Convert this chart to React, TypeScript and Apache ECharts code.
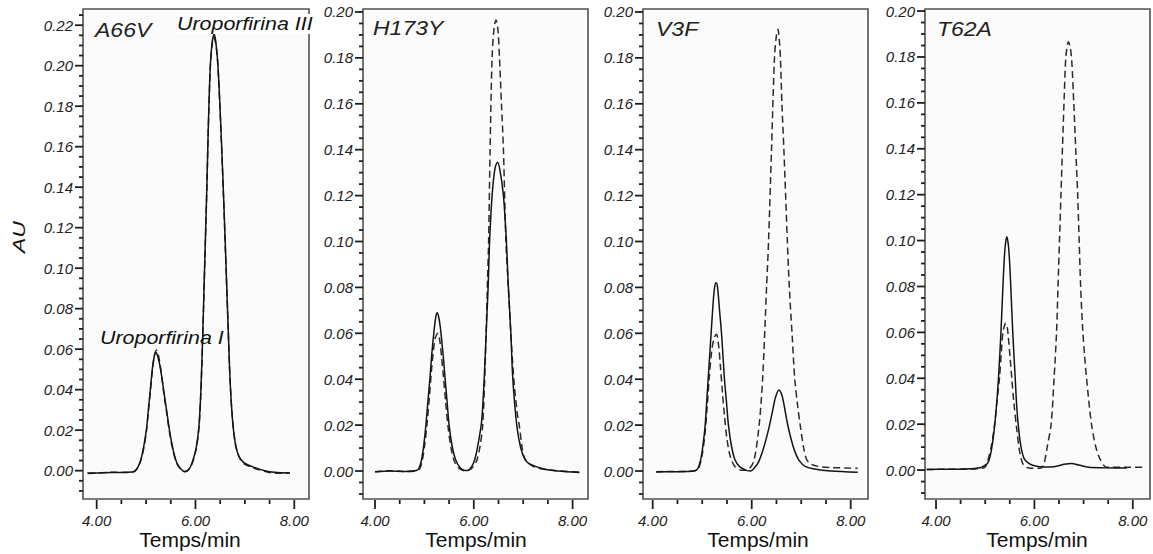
import React, { useEffect, useRef } from "react";
import * as echarts from "echarts";

// ---------- data (time in min, absorbance in AU) ----------
const panelNames = ["A66V", "H173Y", "V3F", "T62A"];
const peakNames = ["Uroporfirina I", "Uroporfirina III"];
const xAxisTitle = "Temps/min";
const yAxisTitle = "AU";

const xTickValues = [4, 6, 8];
const xMinorTickValues = [4.5, 5, 5.5, 6.5, 7, 7.5];
const yTickValuesA66V = [0, 0.02, 0.04, 0.06, 0.08, 0.1, 0.12, 0.14, 0.16, 0.18, 0.2, 0.22];
const yTickValuesOther = [0, 0.02, 0.04, 0.06, 0.08, 0.1, 0.12, 0.14, 0.16, 0.18, 0.2];

// A66V — solid (mutant) and dashed (wild type)
const a66vSolid: [number, number][] = [
  [3.81, -0.0012], [4.0, -0.0011], [4.3, -0.0009], [4.6, -0.0008], [4.76, -0.0004], [4.84, 0.002],
  [4.9, 0.006], [4.96, 0.013], [5.01, 0.021], [5.05, 0.031], [5.09, 0.041], [5.13, 0.051],
  [5.17, 0.057], [5.2, 0.0585], [5.23, 0.057], [5.27, 0.053], [5.32, 0.046], [5.36, 0.039],
  [5.42, 0.029], [5.48, 0.019], [5.55, 0.01], [5.62, 0.004], [5.7, 0.001], [5.78, -0.0004],
  [5.84, 0.0], [5.9, 0.002], [5.96, 0.006], [6.02, 0.012], [6.07, 0.022], [6.11, 0.04],
  [6.15, 0.07], [6.19, 0.105], [6.23, 0.14], [6.26, 0.17], [6.3, 0.2], [6.34, 0.212],
  [6.38, 0.2155], [6.41, 0.212], [6.45, 0.202], [6.49, 0.183], [6.53, 0.16], [6.58, 0.128],
  [6.62, 0.1], [6.66, 0.072], [6.7, 0.045], [6.75, 0.025], [6.81, 0.013], [6.88, 0.007],
  [6.98, 0.004], [7.15, 0.002], [7.4, 0.0], [7.6, -0.0008], [7.91, -0.0012],
];
const a66vDashed: [number, number][] = [
  [3.83, -0.0014], [4.0, -0.0012], [4.3, -0.0008], [4.6, -0.0009], [4.76, -0.0005], [4.84, 0.0018],
  [4.9, 0.0055], [4.96, 0.012], [5.01, 0.02], [5.05, 0.03], [5.09, 0.04], [5.13, 0.05],
  [5.17, 0.057], [5.21, 0.0595], [5.24, 0.058], [5.28, 0.053], [5.32, 0.046], [5.36, 0.038],
  [5.42, 0.028], [5.48, 0.018], [5.55, 0.0095], [5.62, 0.0035], [5.7, 0.0008], [5.78, -0.0005],
  [5.84, 0.0], [5.9, 0.0018], [5.96, 0.0055], [6.02, 0.0115], [6.07, 0.021], [6.11, 0.039],
  [6.15, 0.069], [6.19, 0.104], [6.23, 0.139], [6.26, 0.169], [6.3, 0.199], [6.34, 0.211],
  [6.37, 0.214], [6.41, 0.211], [6.45, 0.201], [6.49, 0.182], [6.53, 0.159], [6.58, 0.127],
  [6.62, 0.099], [6.66, 0.071], [6.7, 0.045], [6.75, 0.025], [6.81, 0.013], [6.88, 0.007],
  [6.98, 0.0035], [7.15, 0.0015], [7.4, -0.0003], [7.6, -0.0013], [7.91, -0.0011],
];

// H173Y
const h173ySolid: [number, number][] = [
  [4.0, -0.0003], [4.3, 0.0], [4.6, -0.0002], [4.85, 0.0003], [4.92, 0.003], [4.98, 0.01],
  [5.03, 0.02], [5.07, 0.03], [5.11, 0.04], [5.15, 0.051], [5.19, 0.06], [5.23, 0.067],
  [5.26, 0.069], [5.29, 0.067], [5.32, 0.063], [5.35, 0.057], [5.39, 0.048], [5.42, 0.04],
  [5.46, 0.03], [5.5, 0.02], [5.56, 0.011], [5.63, 0.005], [5.72, 0.0015], [5.82, 0.0002],
  [5.89, 0.0003], [5.96, 0.002], [6.02, 0.005], [6.09, 0.012], [6.16, 0.022], [6.21, 0.04],
  [6.25, 0.06], [6.29, 0.08], [6.32, 0.1], [6.37, 0.12], [6.43, 0.132], [6.48, 0.1345],
  [6.53, 0.131], [6.6, 0.12], [6.66, 0.1], [6.7, 0.08], [6.75, 0.06], [6.79, 0.04],
  [6.87, 0.02], [6.95, 0.01], [7.04, 0.005], [7.14, 0.003], [7.4, 0.001], [7.7, 0.0],
  [8.14, -0.0006],
];
const h173yDashed: [number, number][] = [
  [4.0, -0.0003], [4.3, 0.0001], [4.6, -0.0002], [4.88, 0.0005], [4.95, 0.004], [5.01, 0.012],
  [5.06, 0.022], [5.1, 0.032], [5.14, 0.043], [5.18, 0.052], [5.22, 0.058], [5.27, 0.06],
  [5.31, 0.057], [5.35, 0.049], [5.39, 0.04], [5.43, 0.03], [5.48, 0.019], [5.54, 0.01],
  [5.61, 0.004], [5.71, 0.001], [5.83, 0.0001], [5.95, 0.001], [6.05, 0.004], [6.12, 0.01],
  [6.18, 0.02], [6.22, 0.04], [6.25, 0.06], [6.28, 0.085], [6.3, 0.1], [6.33, 0.14],
  [6.37, 0.18], [6.41, 0.193], [6.45, 0.1965], [6.49, 0.192], [6.52, 0.18], [6.56, 0.16],
  [6.6, 0.14], [6.65, 0.1], [6.7, 0.08], [6.75, 0.06], [6.81, 0.04], [6.88, 0.025],
  [6.92, 0.02], [6.98, 0.01], [7.04, 0.005], [7.2, 0.002], [7.5, 0.0005], [8.14, -0.0005],
];

// V3F
const v3fSolid: [number, number][] = [
  [4.07, -0.0004], [4.4, -0.0003], [4.7, -0.0002], [4.89, 0.0005], [4.97, 0.005], [5.02, 0.012],
  [5.06, 0.02], [5.09, 0.03], [5.12, 0.04], [5.15, 0.05], [5.18, 0.06], [5.22, 0.073],
  [5.25, 0.08], [5.28, 0.082], [5.31, 0.08], [5.35, 0.07], [5.39, 0.06], [5.42, 0.05],
  [5.45, 0.04], [5.49, 0.03], [5.53, 0.02], [5.59, 0.011], [5.66, 0.005], [5.75, 0.002],
  [5.88, 0.0004], [5.98, 0.0], [6.06, 0.0015], [6.14, 0.004], [6.21, 0.008], [6.28, 0.013],
  [6.35, 0.019], [6.42, 0.026], [6.48, 0.032], [6.55, 0.0353], [6.61, 0.033], [6.66, 0.028],
  [6.71, 0.022], [6.76, 0.017], [6.82, 0.012], [6.88, 0.008], [6.96, 0.0045], [7.08, 0.002],
  [7.24, 0.001], [7.6, 0.0], [8.14, -0.0005],
];
const v3fDashed: [number, number][] = [
  [4.07, -0.0003], [4.4, -0.0002], [4.7, -0.0001], [4.9, 0.0005], [4.98, 0.005], [5.05, 0.015],
  [5.1, 0.028], [5.14, 0.04], [5.19, 0.052], [5.24, 0.058], [5.29, 0.0596], [5.33, 0.055],
  [5.37, 0.045], [5.41, 0.034], [5.45, 0.024], [5.5, 0.014], [5.57, 0.006], [5.66, 0.002],
  [5.8, 0.0003], [5.95, 0.001], [6.05, 0.005], [6.15, 0.02], [6.22, 0.04], [6.3, 0.08],
  [6.34, 0.1], [6.4, 0.14], [6.46, 0.18], [6.5, 0.19], [6.53, 0.1925], [6.56, 0.187],
  [6.58, 0.18], [6.61, 0.16], [6.65, 0.14], [6.72, 0.1], [6.76, 0.08], [6.82, 0.058],
  [6.87, 0.04], [6.93, 0.028], [6.98, 0.02], [7.05, 0.01], [7.11, 0.005], [7.2, 0.003],
  [7.35, 0.002], [7.6, 0.0015], [8.14, 0.0012],
];

// T62A
const t62aSolid: [number, number][] = [
  [3.81, 0.0003], [4.2, 0.0004], [4.6, 0.0005], [4.9, 0.001], [4.99, 0.002], [5.05, 0.003],
  [5.1, 0.006], [5.15, 0.012], [5.2, 0.021], [5.24, 0.031], [5.27, 0.04], [5.32, 0.06],
  [5.36, 0.08], [5.4, 0.096], [5.44, 0.1017], [5.48, 0.096], [5.52, 0.08], [5.56, 0.06],
  [5.61, 0.04], [5.64, 0.028], [5.67, 0.02], [5.72, 0.011], [5.79, 0.005], [5.88, 0.003],
  [5.98, 0.002], [6.2, 0.0013], [6.4, 0.0015], [6.6, 0.0025], [6.76, 0.0029], [6.9, 0.0022],
  [7.1, 0.0012], [7.4, 0.001], [7.88, 0.0009],
];
const t62aDashed: [number, number][] = [
  [3.81, 0.0003], [4.5, 0.0004], [4.98, 0.001], [5.05, 0.004], [5.12, 0.01], [5.18, 0.018],
  [5.24, 0.03], [5.29, 0.04], [5.33, 0.052], [5.36, 0.06], [5.4, 0.0635], [5.42, 0.064],
  [5.45, 0.062], [5.47, 0.058], [5.51, 0.048], [5.54, 0.04], [5.58, 0.03], [5.64, 0.018],
  [5.7, 0.008], [5.76, 0.003], [5.84, 0.0012], [5.95, 0.0008], [6.1, 0.0008], [6.15, 0.001],
  [6.2, 0.003], [6.26, 0.01], [6.34, 0.02], [6.4, 0.04], [6.45, 0.06], [6.48, 0.08],
  [6.51, 0.1], [6.54, 0.12], [6.57, 0.14], [6.61, 0.165], [6.64, 0.18], [6.69, 0.1866],
  [6.73, 0.184], [6.76, 0.178], [6.8, 0.16], [6.84, 0.14], [6.88, 0.12], [6.91, 0.1],
  [6.94, 0.08], [6.98, 0.062], [7.02, 0.05], [7.06, 0.04], [7.16, 0.02], [7.25, 0.01],
  [7.33, 0.005], [7.47, 0.0012], [7.8, 0.0012], [8.25, 0.0012],
];

const solidSeries = [a66vSolid, h173ySolid, v3fSolid, t62aSolid];
const dashedSeries = [a66vDashed, h173yDashed, v3fDashed, t62aDashed];

// ---------- layout (pixels / axis ranges) ----------
const layout = [
  { left: 83, width: 226, xMin: 3.723, xMax: 8.298, yMin: -0.014, yMax: 0.228, yTicks: yTickValuesA66V, nameX: 95, nameY: 30.5, titleX: 190 },
  { left: 363, width: 225, xMin: 3.757, xMax: 8.312, yMin: -0.0122, yMax: 0.2013, yTicks: yTickValuesOther, nameX: 373, nameY: 28, titleX: 476 },
  { left: 643, width: 225, xMin: 3.804, xMax: 8.349, yMin: -0.0122, yMax: 0.2013, yTicks: yTickValuesOther, nameX: 656, nameY: 29.5, titleX: 758 },
  { left: 925, width: 225, xMin: 3.776, xMax: 8.35, yMin: -0.0126, yMax: 0.2009, yTicks: yTickValuesOther, nameX: 937, nameY: 29.5, titleX: 1037 },
];
const gridTop = 9;
const gridHeight = 490;

const FONT = "'Liberation Sans', Arial, Helvetica, sans-serif";
const TEXT_COLOR = "#222222";
const TICK_COLOR = "#1e1e1e";

function stepValues(a: number, b: number, s: number): number[] {
  const out: number[] = [];
  for (let k = 0; a + k * s <= b + 1e-9; k++) out.push(Math.round((a + k * s) * 10000) / 10000);
  return out;
}

export default function App() {
  const ref = useRef<HTMLDivElement>(null);

  useEffect(() => {
    if (!ref.current) return;
    const chart = echarts.init(ref.current, undefined, { renderer: "svg" });

    const grids: any[] = [];
    const xAxes: any[] = [];
    const yAxes: any[] = [];
    const series: any[] = [];
    const graphics: any[] = [];

    layout.forEach((p, i) => {
      grids.push({
        left: p.left,
        top: gridTop,
        width: p.width,
        height: gridHeight,
        show: true,
        backgroundColor: "#fbfbfb",
        borderColor: "#505050",
        borderWidth: 1.6,
        containLabel: false,
      });
      xAxes.push({
        type: "value",
        gridIndex: i,
        position: "bottom",
        min: p.xMin,
        max: p.xMax,
        axisLine: { show: false, onZero: false },
        splitLine: { show: false },
        axisTick: { show: false },
        axisLabel: { show: false },
      });
      yAxes.push({
        type: "value",
        gridIndex: i,
        position: "left",
        min: p.yMin,
        max: p.yMax,
        axisLine: { show: false, onZero: false },
        splitLine: { show: false },
        axisTick: { show: false },
        axisLabel: { show: false },
      });

      series.push({
        type: "line",
        xAxisIndex: i,
        yAxisIndex: i,
        data: dashedSeries[i],
        showSymbol: false,
        symbol: "none",
        smooth: 0.3,
        lineStyle: { color: "#2a2a2a", width: 1.5, type: [7, 4] },
        z: 3,
      });
      series.push({
        type: "line",
        xAxisIndex: i,
        yAxisIndex: i,
        data: solidSeries[i],
        showSymbol: false,
        symbol: "none",
        smooth: 0.3,
        lineStyle: { color: "#141414", width: 1.5, type: "solid" },
        z: 4,
      });

      graphics.push({
        type: "text",
        x: p.nameX,
        y: p.nameY,
        scaleX: 1.15,
        z: 10,
        style: {
          text: panelNames[i],
          font: `italic 20px ${FONT}`,
          fill: TEXT_COLOR,
          textAlign: "left",
          textVerticalAlign: "middle",
          verticalAlign: "middle",
        },
      });
      graphics.push({
        type: "text",
        x: p.titleX,
        y: 539.5,
        z: 10,
        style: {
          text: xAxisTitle,
          font: `21px ${FONT}`,
          fill: "#111",
          textAlign: "center",
          align: "center",
          textVerticalAlign: "middle",
          verticalAlign: "middle",
        },
      });
    });

    graphics.push({
      type: "text",
      x: 177,
      y: 24,
      scaleX: 1.19,
      z: 12,
      style: {
        text: peakNames[1],
        font: `italic 18px ${FONT}`,
        fill: "#111",
        backgroundColor: "#ffffff",
        padding: [1, 1, 1, 0],
        textAlign: "left",
        verticalAlign: "middle",
        textVerticalAlign: "middle",
      },
    });
    graphics.push({
      type: "text",
      x: 100,
      y: 338,
      scaleX: 1.19,
      z: 12,
      style: {
        text: peakNames[0],
        font: `italic 18px ${FONT}`,
        fill: "#111",
        textAlign: "left",
        verticalAlign: "middle",
        textVerticalAlign: "middle",
      },
    });
    graphics.push({
      type: "text",
      x: 19,
      y: 237,
      rotation: Math.PI / 2,
      scaleX: 1.35,
      z: 12,
      style: {
        text: yAxisTitle,
        font: `italic 17px ${FONT}`,
        fill: "#111",
        textAlign: "center",
        align: "center",
        verticalAlign: "middle",
        textVerticalAlign: "middle",
      },
    });

    chart.setOption({
      animation: false,
      backgroundColor: "#ffffff",
      grid: grids,
      xAxis: xAxes,
      yAxis: yAxes,
      series,
    });

    // ticks and tick labels placed through each axis' scale
    const gridBottom = gridTop + gridHeight;
    layout.forEach((p, i) => {
      const toX = (t: number): number => {
        const v = chart.convertToPixel({ xAxisIndex: i }, t) as any;
        if (typeof v === "number" && isFinite(v)) return v;
        return p.left + ((t - p.xMin) / (p.xMax - p.xMin)) * p.width;
      };
      const toY = (a: number): number => {
        const v = chart.convertToPixel({ yAxisIndex: i }, a) as any;
        if (typeof v === "number" && isFinite(v)) return v;
        return gridBottom - ((a - p.yMin) / (p.yMax - p.yMin)) * gridHeight;
      };
      const tickPoints: number[][] = [];
      const tick = (x1: number, y1: number, x2: number, y2: number) => {
        tickPoints.push([x1, y1, x2, y2]);
      };

      xTickValues.forEach((t) => {
        const px = toX(t);
        tick(px, gridBottom + 1, px, gridBottom + 10);
        graphics.push({
          type: "text",
          x: px,
          y: 520,
          z: 9,
          style: {
            text: t.toFixed(2),
            font: `italic 15px ${FONT}`,
            fill: TEXT_COLOR,
            align: "center",
            textAlign: "center",
            verticalAlign: "middle",
            textVerticalAlign: "middle",
          },
        });
      });
      xMinorTickValues.forEach((t) => {
        const px = toX(t);
        tick(px, gridBottom + 1, px, gridBottom + 5);
      });
      p.yTicks.forEach((a) => {
        const py = toY(a);
        tick(p.left - 8, py, p.left, py);
        graphics.push({
          type: "text",
          x: p.left - 10,
          y: py,
          z: 9,
          style: {
            text: a.toFixed(2),
            font: `italic 15px ${FONT}`,
            fill: TEXT_COLOR,
            align: "right",
            textAlign: "right",
            verticalAlign: "middle",
            textVerticalAlign: "middle",
          },
        });
      });
      stepValues(-0.01, p.yMax, 0.005).forEach((a) => {
        if (p.yTicks.some((m) => Math.abs(m - a) < 1e-6)) return;
        const py = toY(a);
        tick(p.left - 4, py, p.left, py);
      });

      // all ticks of this panel as polylines inside one group
      graphics.push({
        type: "group",
        z: 20,
        children: tickPoints.map((q) => ({
          type: "polyline",
          z: 20,
          shape: { points: [[q[0], q[1]], [q[2], q[3]]] },
          style: { stroke: TICK_COLOR, lineWidth: 1.8, fill: null },
        })),
      });
    });

    chart.setOption({ graphic: { elements: graphics } });

    return () => chart.dispose();
  }, []);

  return (
    <div
      ref={ref}
      style={{ position: "absolute", left: 0, top: 0, width: 1153, height: 554 }}
    />
  );
}
